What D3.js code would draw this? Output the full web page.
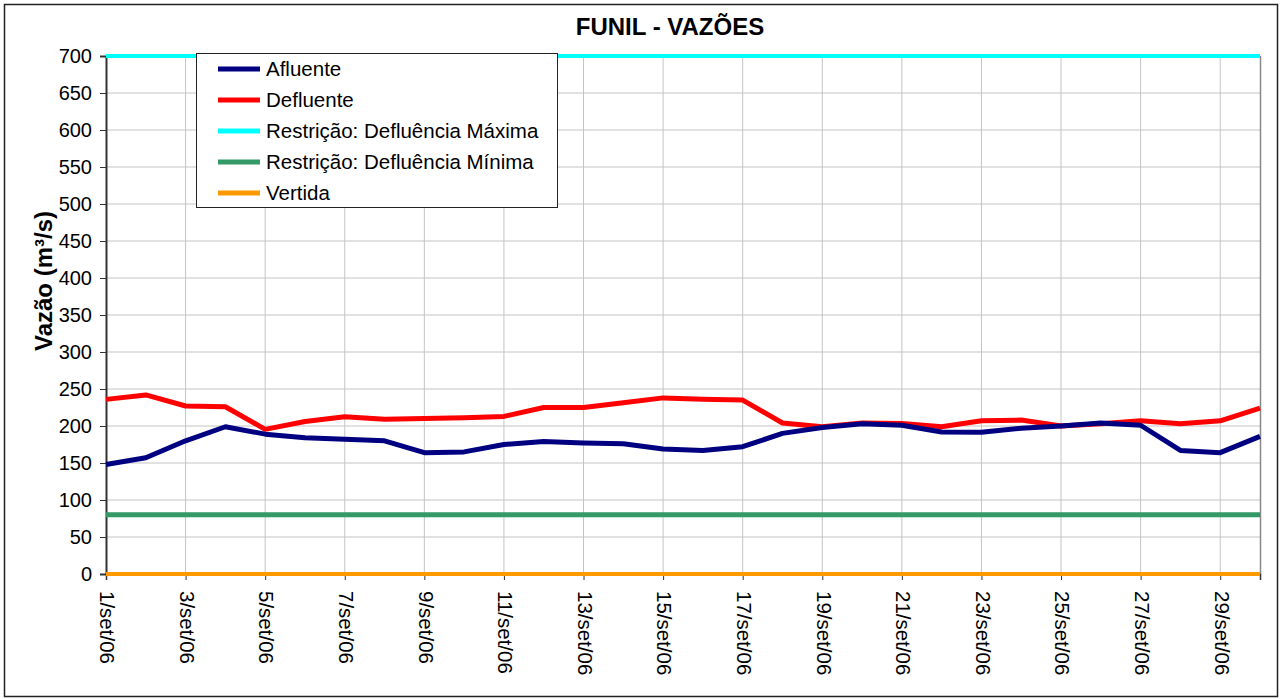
<!DOCTYPE html>
<html><head><meta charset="utf-8">
<script src="https://cdn.jsdelivr.net/npm/d3@7"></script>
<style>body{margin:0;background:#fff;} svg{display:block;font-family:Arial,"Liberation Sans",sans-serif;}</style>
</head><body>
<svg id="c" width="1283" height="699"></svg>
<script>
const days = d3.range(1, 31);
const dayLabels = days.map(d => d + "/set/06");
const afluente = [148,157,180,199,189,184,182,180,164,165,175,179,177,176,169,167,172,190,198,203,201,192,191.5,197,200,204,201,167,164,186];
const defluente = [236,242,227,226,195.5,206,212.5,209,210,211,213,225,225,231.5,238,236,235,204,199,204,203.5,199,207,208,200,203,207,203,207,224];
const defMax = days.map(() => 700);
const defMin = days.map(() => 80);
const vertida = days.map(() => 0);
const yTicks = d3.range(0, 701, 50);

const series = [
  {name: "Afluente", values: afluente, color: "#000080", w: 5},
  {name: "Defluente", values: defluente, color: "#ff0000", w: 5},
  {name: "Restrição: Defluência Máxima", values: defMax, color: "#00ffff", w: 4},
  {name: "Restrição: Defluência Mínima", values: defMin, color: "#339966", w: 5},
  {name: "Vertida", values: vertida, color: "#ff9900", w: 4}
];

const FF = "Arial,'Liberation Sans',sans-serif";
const svg = d3.select("#c");
const L = 106, R = 1260, T = 56, B = 574;
const x = d3.scaleLinear().domain([1, 30]).range([L, R]);
const y = d3.scaleLinear().domain([0, 700]).range([B, T]);

svg.append("rect").attr("x", 4.5).attr("y", 4.5).attr("width", 1273).attr("height", 692)
  .attr("fill", "#fff").attr("stroke", "#222").attr("stroke-width", 1.5);

const g = svg.append("g");
g.selectAll(".hg").data(yTicks.filter(v => v > 0)).join("line")
  .attr("x1", L).attr("x2", R).attr("y1", d => y(d)).attr("y2", d => y(d))
  .attr("stroke", "#c4c4c4").attr("stroke-width", 1);
const oddDays = days.filter(d => d % 2 === 1);
g.selectAll(".vg").data(oddDays.filter(d => d > 1)).join("line")
  .attr("x1", d => x(d)).attr("x2", d => x(d)).attr("y1", T).attr("y2", B)
  .attr("stroke", "#c4c4c4").attr("stroke-width", 1);
g.append("line").attr("x1", R + 0.5).attr("x2", R + 0.5).attr("y1", T).attr("y2", B + 1)
  .attr("stroke", "#888").attr("stroke-width", 1.5);

const yAxis = d3.axisLeft(y).tickValues(yTicks).tickSize(6).tickPadding(8);
const ya = svg.append("g").attr("transform", `translate(${L},0)`).call(yAxis);
ya.select(".domain").attr("stroke", "#333").attr("stroke-width", 2);
ya.selectAll(".tick line").attr("stroke", "#333");
ya.selectAll("text").attr("font-size", 20).attr("fill", "#000").attr("font-family", FF);

const xAxis = d3.axisBottom(x).tickValues(oddDays).tickSize(6).tickFormat(d => dayLabels[d - 1]);
const xa = svg.append("g").attr("transform", `translate(0,${B})`).call(xAxis);
xa.select(".domain").attr("stroke", "#333").attr("stroke-width", 1.5);
xa.selectAll(".tick line").attr("stroke", "#333");
xa.selectAll("text").attr("font-size", 20.5).attr("fill", "#000").attr("font-family", FF)
  .attr("text-anchor", "start").attr("dy", "0.35em")
  .attr("transform", "rotate(90)").attr("x", 17).attr("y", -1);

const line = d3.line().x((d, i) => x(days[i])).y(d => y(d));
[4, 3, 2, 1, 0].forEach(i => {
  const s = series[i];
  svg.append("path").datum(s.values).attr("d", line).attr("fill", "none")
    .attr("stroke", s.color).attr("stroke-width", s.w).attr("stroke-linejoin", "round");
});

svg.append("text").attr("x", 670).attr("y", 35).attr("text-anchor", "middle")
  .attr("font-size", 24).attr("font-weight", "bold").text("FUNIL - VAZÕES");
svg.append("text").attr("transform", "translate(52,281) rotate(-90)").attr("text-anchor", "middle")
  .attr("font-size", 24).attr("font-weight", "bold").text("Vazão (m³/s)");

const lg = svg.append("g");
lg.append("rect").attr("x", 196.5).attr("y", 53.5).attr("width", 361).attr("height", 154)
  .attr("fill", "#fff").attr("stroke", "#222").attr("stroke-width", 1);
series.forEach((s, i) => {
  const yy = 69 + i * 31;
  lg.append("line").attr("x1", 218).attr("x2", 260).attr("y1", yy).attr("y2", yy)
    .attr("stroke", s.color).attr("stroke-width", 5);
  lg.append("text").attr("x", 266).attr("y", yy).attr("dy", "0.35em").attr("font-size", 20.5).text(s.name);
});
</script>
</body></html>
